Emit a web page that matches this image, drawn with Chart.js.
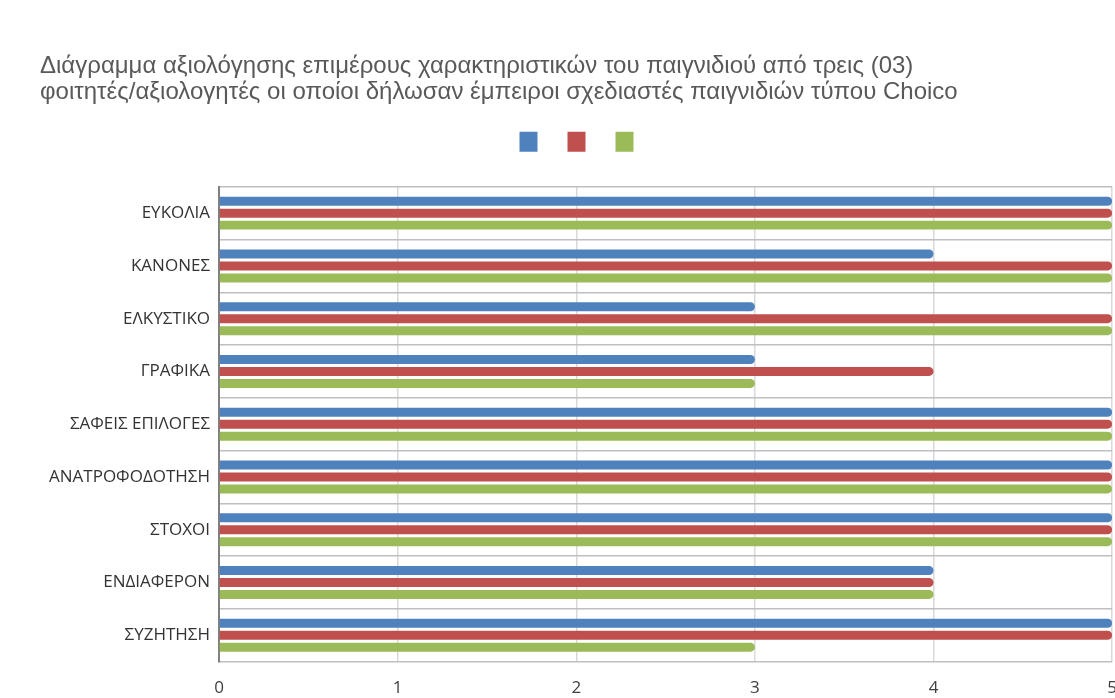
<!DOCTYPE html>
<html lang="el">
<head>
<meta charset="utf-8">
<title>Αξιολόγηση παιχνιδιού Choico</title>
<script src="https://cdn.jsdelivr.net/npm/chart.js@4.4.1/dist/chart.umd.min.js"></script>
<style>
  html, body { margin: 0; padding: 0; background: #fff; overflow: hidden; }
  #wrap { position: relative; width: 1133px; height: 714px; }
</style>
</head>
<body>
<div id="wrap"><canvas id="grafico"></canvas></div>
<script>
// κατηγορίες αξιολόγησης και βαθμοί των τριών αξιολογητών
const kritiria = ["ΕΥΚΟΛΙΑ", "ΚΑΝΟΝΕΣ", "ΕΛΚΥΣΤΙΚΟ", "ΓΡΑΦΙΚΑ", "ΣΑΦΕΙΣ ΕΠΙΛΟΓΕΣ",
  "ΑΝΑΤΡΟΦΟΔΟΤΗΣΗ", "ΣΤΟΧΟΙ", "ΕΝΔΙΑΦΕΡΟΝ", "ΣΥΖΗΤΗΣΗ"];
const axiologitis1 = [5, 4, 3, 3, 5, 5, 5, 4, 5];
const axiologitis2 = [5, 5, 5, 4, 5, 5, 5, 4, 5];
const axiologitis3 = [5, 5, 5, 3, 5, 5, 5, 4, 3];
const klimaka = [0, 1, 2, 3, 4, 5];

const titlos = [
  "Διάγραμμα αξιολόγησης επιμέρους χαρακτηριστικών του παιγνιδιού από τρεις (03)",
  "φοιτητές/αξιολογητές οι οποίοι δήλωσαν έμπειροι σχεδιαστές παιγνιδιών τύπου Choico",
];

const CORES = { mple: "#4F81BD", kokkino: "#C0504D", prasino: "#9BBB59" };

function seira(data, cor) {
  return {
    label: "", data, backgroundColor: cor, borderRadius: 5, borderSkipped: "start",
    categoryPercentage: 0.68, barPercentage: 0.75,
  };
}

// λίγος χώρος ακόμα κάτω από το υπόμνημα
const kenoYpomnimatos = {
  id: "kenoYpomnimatos",
  beforeInit(chart) {
    const fit = chart.legend.fit;
    chart.legend.fit = function () {
      fit.call(this);
      this.height += 25;
    };
  },
};

new Chart(document.getElementById("grafico"), {
  type: "bar",
  data: {
    labels: kritiria,
    datasets: [
      seira(axiologitis1, CORES.mple),
      seira(axiologitis2, CORES.kokkino),
      seira(axiologitis3, CORES.prasino),
    ],
  },
  plugins: [kenoYpomnimatos],
  options: {
    indexAxis: "y",
    responsive: true, maintainAspectRatio: false, animation: false,
    layout: { padding: { left: 40, top: 53, right: 14, bottom: 0 } },
    plugins: {
      title: {
        display: true, text: titlos, align: "start", color: "#595959",
        font: { family: "Liberation Sans", size: 24, weight: "normal", lineHeight: 1.1 },
        padding: { top: 0, bottom: 2 },
      },
      legend: {
        display: true, position: "top",
        labels: { boxWidth: 18, boxHeight: 20, padding: 24, font: { size: 12 } },
      },
      tooltip: { enabled: false },
    },
    scales: {
      x: {
        min: 0, max: 5,
        afterBuildTicks: (ax) => { ax.ticks = klimaka.map((v) => ({ value: v })); },
        grid: { color: "#D9D9D9", lineWidth: 1.5, drawTicks: false },
        border: { display: false },
        ticks: { color: "#404040", padding: 16, font: { family: "Open Sans", size: 17 } },
      },
      y: {
        grid: { color: "#BFBFBF", lineWidth: 1.5, offset: true, drawTicks: false },
        border: { display: true, color: "#808080", width: 2 },
        ticks: { color: "#333", padding: 9, font: { family: "Open Sans", size: 17 } },
      },
    },
  },
});
</script>
</body>
</html>
